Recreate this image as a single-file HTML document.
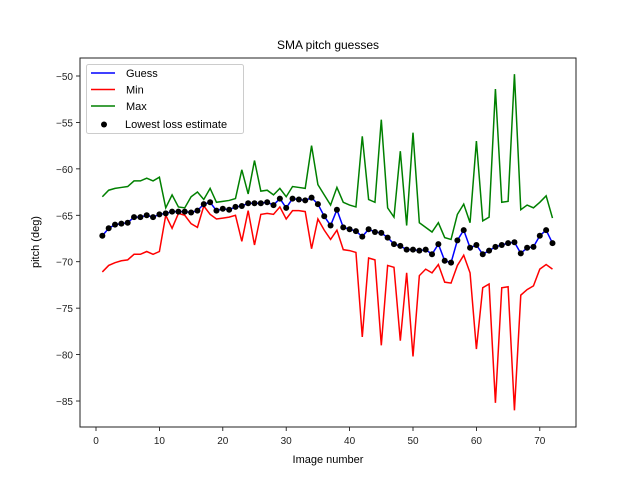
<!DOCTYPE html>
<html><head><meta charset="utf-8"><style>
body{margin:0;background:#fff;}
svg{display:block;font-family:"Liberation Sans","DejaVu Sans",sans-serif;}
</style></head><body>
<svg id="chart" width="640" height="480"></svg>
<script>
const xs = Array.from({length:72},(_,i)=>i+1);
const guess = [-67.2,-66.4,-66.0,-65.9,-65.8,-65.2,-65.2,-65.0,-65.2,-64.9,-64.8,-64.6,-64.6,-64.6,-64.7,-64.5,-63.8,-63.6,-64.5,-64.3,-64.4,-64.1,-64.0,-63.7,-63.7,-63.7,-63.6,-63.9,-63.2,-64.2,-63.2,-63.3,-63.4,-63.1,-63.8,-65.1,-66.1,-64.4,-66.3,-66.5,-66.7,-67.3,-66.5,-66.8,-66.9,-67.4,-68.1,-68.3,-68.7,-68.7,-68.8,-68.7,-69.2,-68.1,-69.9,-70.1,-67.7,-66.6,-68.5,-68.2,-69.2,-68.8,-68.4,-68.2,-68.0,-67.9,-69.1,-68.5,-68.4,-67.2,-66.6,-68.0];
const maxv = [-63,-62.3,-62.1,-62.0,-61.9,-61.3,-61.3,-61.0,-61.3,-60.9,-64.2,-62.8,-64.1,-64.2,-63.0,-62.5,-63.3,-62.1,-63.6,-63.5,-63.4,-63.2,-60.1,-62.7,-59.1,-62.4,-62.3,-62.8,-62.1,-63.0,-61.9,-62.0,-62.1,-57.5,-61.7,-62.8,-63.9,-62.0,-63.6,-63.9,-64.1,-56.5,-63.3,-63.6,-54.7,-64.2,-65.2,-58.1,-66.1,-56.1,-65.8,-66.3,-66.8,-65.8,-67.4,-67.6,-64.9,-63.8,-65.8,-57.0,-65.6,-65.2,-51.4,-63.6,-63.5,-49.8,-64.4,-63.9,-64.2,-63.6,-62.9,-65.3];
const minv = [-71.1,-70.4,-70.1,-69.9,-69.8,-69.2,-69.2,-68.9,-69.2,-68.9,-65.0,-66.4,-64.8,-65.0,-65.9,-66.3,-64.0,-64.9,-65.4,-65.3,-65.2,-65.0,-67.8,-64.5,-68.2,-64.9,-64.8,-64.9,-64.1,-65.4,-64.5,-64.5,-64.6,-68.6,-65.4,-66.6,-67.6,-66.6,-68.7,-68.8,-69.0,-78.1,-69.6,-69.8,-79.0,-70.4,-70.6,-78.5,-71.2,-80.2,-71.5,-70.8,-71.2,-70.3,-72.2,-72.3,-70.4,-69.3,-71.2,-79.4,-72.8,-72.4,-85.2,-72.8,-72.7,-86.0,-73.6,-73.0,-72.6,-70.8,-70.3,-70.8];
const xTicks = [0,10,20,30,40,50,60,70];
const yTicks = [-50,-55,-60,-65,-70,-75,-80,-85];

const L=80,R=576,T=58,B=427;
const X = v => 96 + (v-0)*6.34;
const Y = v => 76 + (-50 - v)*9.286;
const svg = document.getElementById('chart');
const NS='http://www.w3.org/2000/svg';
function mk(tag, attrs, parent){const e=document.createElementNS(NS,tag);for(const k in attrs)e.setAttribute(k,attrs[k]);(parent||svg).appendChild(e);return e;}

const title = mk('text',{x:328,y:49,'text-anchor':'middle','font-size':12,fill:'#000'});
title.textContent='SMA pitch guesses';



xTicks.forEach(t=>{
  const g=mk('g',{});
  
  
  mk('line',{x1:X(t),x2:X(t),y1:B,y2:B+4,stroke:'#000','stroke-width':0.8},g);
  const tx=mk('text',{x:X(t),y:B+17,'text-anchor':'middle','font-size':10,fill:'#222'},g);
  tx.textContent=t;
});
yTicks.forEach(t=>{
  const g=mk('g',{});
  
  
  mk('line',{x1:L-4,x2:L,y1:Y(t),y2:Y(t),stroke:'#000','stroke-width':0.8},g);
  const tx=mk('text',{x:L-7,y:Y(t)+4,'text-anchor':'end','font-size':10,fill:'#222'},g);
  tx.textContent='\u2212'+Math.abs(t);
});
const xl=mk('text',{x:328,y:463,'text-anchor':'middle','font-size':11,fill:'#000'});
xl.textContent='Image number';


const yl=mk('text',{x:39,y:242,'text-anchor':'middle','font-size':11,fill:'#000',transform:'rotate(-90 39 242)'});
yl.textContent='pitch (deg)';



function line(arr,color,name){
  const p=mk('polyline',{points:arr.map((v,i)=>X(xs[i])+','+Y(v)).join(' '),fill:'none',stroke:color,'stroke-width':1.5});
  
  
}
line(maxv,'green','max-line');
line(minv,'red','min-line');
line(guess,'blue','guess-line');
guess.forEach((v,i)=>{
  const c=mk('circle',{cx:X(xs[i]),cy:Y(v),r:3,fill:'#000'});
  
  
});

const frame=mk('rect',{x:L,y:T,width:R-L,height:B-T,fill:'none',stroke:'#222','stroke-width':1});



const lg=mk('g',{});


mk('rect',{x:86.5,y:64.5,width:157,height:69,rx:2,fill:'#fff',stroke:'#ccc','stroke-width':1},lg);
const entries=[['Guess','blue'],['Min','red'],['Max','green']];
entries.forEach((e,i)=>{
  const y=73+i*16.5;
  const g=mk('g',{},lg);
  
  
  mk('line',{x1:91,x2:115,y1:y,y2:y,stroke:e[1],'stroke-width':1.5},g);
  const t=mk('text',{x:126,y:y+4,'font-size':11,fill:'#000'},g);
  t.textContent=e[0];
});
const g4=mk('g',{},lg);


mk('circle',{cx:104,cy:124.5,r:3,fill:'#000'},g4);
const t4=mk('text',{x:125,y:128,'font-size':11,fill:'#000'},g4);
t4.textContent='Lowest loss estimate';
</script>
</body></html>
